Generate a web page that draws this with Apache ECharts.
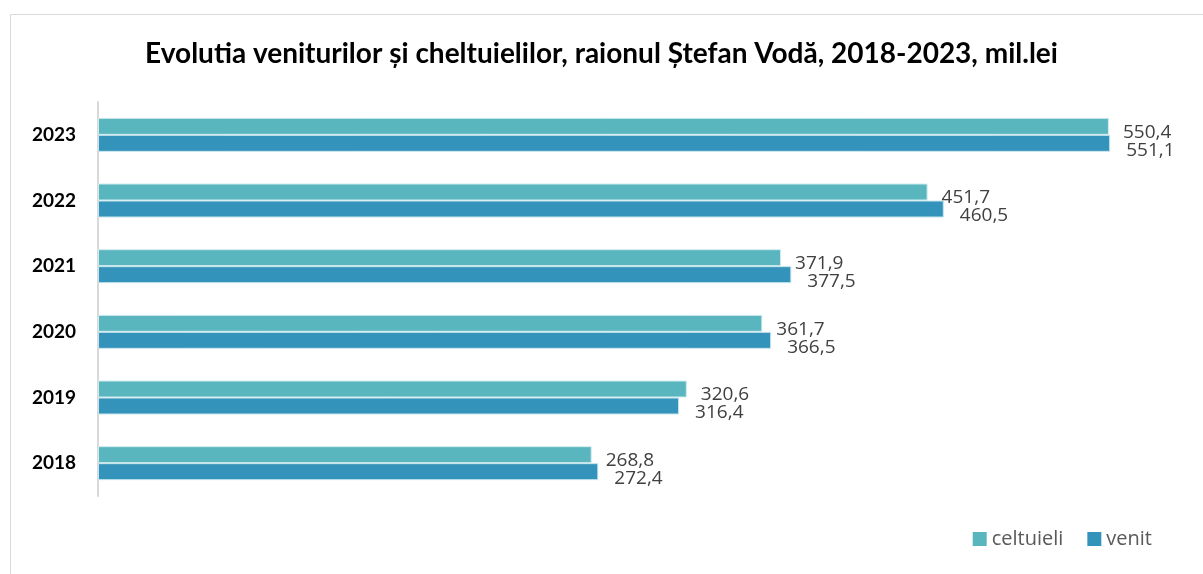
<!DOCTYPE html>
<html lang="ro">
  <head>
    <meta charset="UTF-8" />
    <title>Evolutia veniturilor si cheltuielilor</title>
    <script src="https://cdn.jsdelivr.net/npm/echarts@6.0.0/dist/echarts.min.js"></script>
    <style>
      html, body { margin: 0; padding: 0; background: #fff; }
    </style>
  </head>
  <body>
    <div id="chart" style="width: 1203px; height: 574px"></div>

    <script>
      var years = ["2018", "2019", "2020", "2021", "2022", "2023"]
      var celtuieli = [268.8, 320.6, 361.7, 371.9, 451.7, 550.4]
      var venit = [272.4, 316.4, 366.5, 377.5, 460.5, 551.1]

      var mCharts = echarts.init(document.getElementById("chart"))

      // valori cu virgula zecimala
      function fmt(p) {
        return String(p.value.toFixed(1)).replace(".", ",")
      }

      var labelBase = {
        show: true,
        position: "right",
        fontFamily: "Open Sans",
        fontSize: 19,
        color: "#404040",
        formatter: fmt,
      }

      var option = {
        animation: false,
        title: {
          text: "Evolutia veniturilor și cheltuielilor, raionul Ștefan Vodă, 2018-2023, mil.lei",
          left: "center",
          top: 35,
          textStyle: {
            fontFamily: "Lato",
            fontWeight: "bold",
            fontSize: 28,
            color: "#000",
          },
        },
        graphic: [
          {
            type: "rect",
            shape: { x: 10.5, y: 14.5, width: 1200, height: 570 },
            style: { fill: "none", stroke: "#d9d9d9", lineWidth: 1 },
            silent: true,
          },
        ],
        legend: {
          data: ["celtuieli", "venit"],
          right: 46,
          bottom: 20,
          itemWidth: 14,
          itemHeight: 14,
          itemGap: 24,
          icon: "rect",
          itemStyle: { borderWidth: 0 },
          textStyle: { fontFamily: "Open Sans", fontSize: 20, color: "#595959" },
        },
        grid: {
          left: 98,
          right: 3,
          top: 102,
          height: 394,
        },
        xAxis: {
          type: "value",
          min: 0,
          max: 600,
          show: false,
        },
        yAxis: {
          type: "category",
          data: years,
          axisLine: { show: true, lineStyle: { color: "#d9d9d9", width: 2 } },
          axisTick: { show: false },
          axisLabel: {
            margin: 22,
            padding: [6, 0, 0, 0],
            fontFamily: "Lato",
            fontWeight: "bold",
            fontSize: 19,
            color: "#000",
          },
        },
        series: [
          {
            name: "celtuieli",
            type: "bar",
            data: celtuieli,
            barWidth: 17,
            barGap: "0%",
            itemStyle: { color: "#59B6BF", borderColor: "#d3ecee", borderWidth: 1 },
            label: Object.assign({}, labelBase, { distance: 14, offset: [0, 6] }),
          },
          {
            name: "venit",
            type: "bar",
            data: venit,
            barWidth: 17,
            barGap: "0%",
            itemStyle: { color: "#3393BA", borderColor: "#c9e6ee", borderWidth: 1 },
            label: Object.assign({}, labelBase, { distance: 16, offset: [0, 7] }),
          },
        ],
      }

      mCharts.setOption(option)
    </script>
  </body>
</html>
